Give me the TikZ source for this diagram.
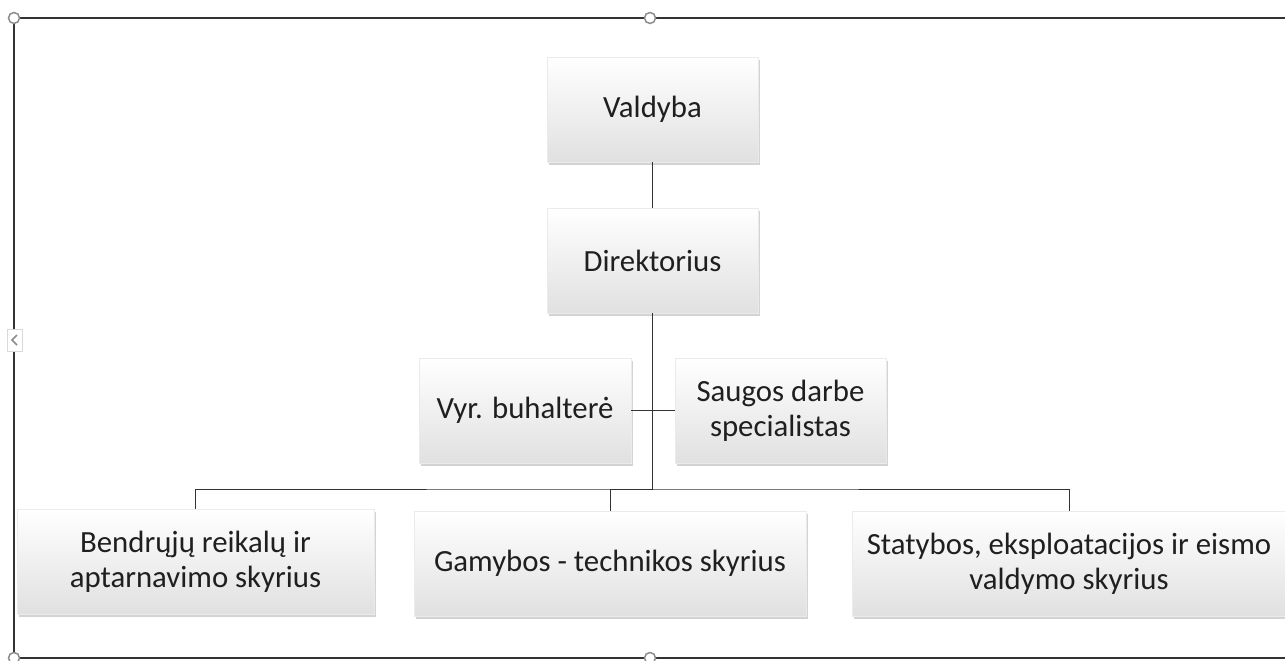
\documentclass[tikz,border=0pt]{standalone}
\usepackage{fontspec}
\setmainfont{Carlito}
\usetikzlibrary{shadows}

\begin{document}
\begin{tikzpicture}[x=1pt,y=-1pt,
  orgbox/.style={rectangle,inner sep=0pt,align=center,text=black!88,
    font=\fontsize{30.8}{35}\selectfont,minimum height=105pt,
    draw=black!8,top color=white,middle color=white,bottom color=black!12,
    drop shadow={shadow xshift=2pt,shadow yshift=-3pt,opacity=.35}},
  link/.style={draw=black!80,line width=1pt},
  handle/.style={draw=black!45,fill=white,line width=1.5pt}]
  \useasboundingbox (0,0) rectangle (1285,661);
  % selection frame
  \draw[black!80,line width=2pt] (14,18) rectangle (1292,658);
  \filldraw[fill=white,draw=black!15] (7,329) rectangle (22,351);
  \draw[black!45,line width=1.5pt] (17,335) -- (12,340) -- (17,345);
  \foreach \hx/\hy in {14/18,650/18,14/658,650/658,1292/340,1292/18,1292/658}
    \draw[handle] (\hx,\hy) circle (5.5pt);

  \node[orgbox,minimum width=211pt] (valdyba) at (652.5,109.5) {Valdyba};
  \node[orgbox,minimum width=211pt] (direkt) at (652.5,260.5) {Direktorius};
  \node[orgbox,minimum width=212pt] (buhalt) at (525,410.5) {Vyr. buhalterė};
  \node[orgbox,minimum width=211pt] (saugos) at (780.5,410.5) {Saugos darbe\\specialistas};
  \node[orgbox,minimum width=357pt] (bendr) at (195.5,561.5) {Bendrųjų reikalų ir\\aptarnavimo skyrius};
  \node[orgbox,minimum width=392pt] (gamyb) at (610,563.5) {Gamybos - technikos skyrius};
  \node[orgbox,minimum width=434pt] (statyb) at (1069,563.5) {Statybos, eksploatacijos ir eismo\\valdymo skyrius};
  \coordinate (fork) at (652.5,489);

  \draw[link] (valdyba) -- (direkt);
  \draw[link] (direkt) -- (fork);
  \draw[link] (buhalt.east) -- (saugos.west);
  \draw[link] (bendr.north) |- (fork) -| (statyb.north);
  \draw[link] (fork) -| (gamyb.north);
  %\draw[link] (direkt) -- (buhalt);
\end{tikzpicture}
\end{document}
